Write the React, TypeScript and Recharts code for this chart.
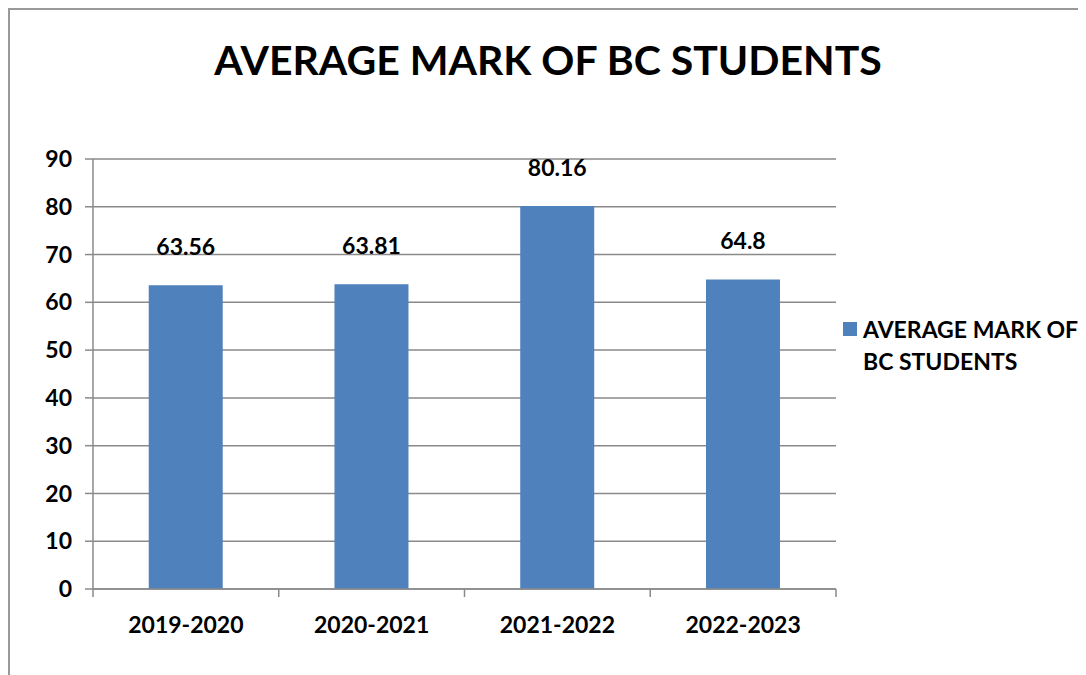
import React from "react";
import {
  BarChart,
  Bar,
  XAxis,
  YAxis,
  CartesianGrid,
  LabelList,
} from "recharts";

const years = ["2019-2020", "2020-2021", "2021-2022", "2022-2023"];
const marks = [63.56, 63.81, 80.16, 64.8];
const yTicks = [0, 10, 20, 30, 40, 50, 60, 70, 80, 90];
const seriesName = "AVERAGE MARK OF BC STUDENTS";

const data = years.map((y, i) => ({ year: y, mark: marks[i] }));

const W = 1078;
const H = 667;
const YW = 50;
const M = { top: 151, right: 250, bottom: 56, left: 35 };
const FONT = "Lato, 'Open Sans', sans-serif";
const GRID = "#8a8a8a";
const FS = 23;

// x ticks: label at centre, tick marks on the category boundaries
function XTick(props: any) {
  const { x, y, payload, index } = props;
  const step = (W - M.left - YW - M.right) / years.length;
  const axisY = y - 8;
  return (
    <g>
      <line x1={x - step / 2} x2={x - step / 2} y1={axisY} y2={axisY + 8} stroke={GRID} strokeWidth={1.5} />
      {index === years.length - 1 && (
        <line x1={x + step / 2} x2={x + step / 2} y1={axisY} y2={axisY + 8} stroke={GRID} strokeWidth={1.5} />
      )}
      <text x={x} y={axisY + 44} textAnchor="middle" fontSize={FS} fontWeight={700} fill="#000" fontFamily={FONT}>
        {payload.value}
      </text>
    </g>
  );
}

export default function App() {
  return (
    <div
      style={{
        position: "relative",
        width: W,
        height: H,
        borderTop: "2px solid #999",
        borderLeft: "2px solid #999",
        boxSizing: "border-box",
        background: "#fff",
        fontFamily: FONT,
      }}
    >
      <div
        style={{
          position: "absolute",
          left: 0,
          width: W - 2,
          top: 25,
          textAlign: "center",
          fontSize: 41,
          fontWeight: 700,
          color: "#000",
        }}
      >
        {seriesName}
      </div>
      <div style={{ position: "absolute", left: -2, top: -2 }}>
        <BarChart width={W} height={H} data={data} margin={M} barCategoryGap="30%">
          <CartesianGrid vertical={false} stroke={GRID} strokeWidth={1.5} />
          <XAxis
            dataKey="year"
            axisLine={{ stroke: GRID, strokeWidth: 1.5 }}
            tickLine={false}
            tick={<XTick />}
            height={30}
            interval={0}
          />
          <YAxis
            domain={[0, 90]}
            ticks={yTicks}
            width={YW}
            axisLine={{ stroke: GRID, strokeWidth: 1.5 }}
            tickLine={{ stroke: GRID, strokeWidth: 1.5 }}
            tickSize={8}
            tickMargin={13}
            tick={{ fill: "#000", fontSize: FS, fontWeight: 700, fontFamily: FONT }}
          />
          <Bar dataKey="mark" name={seriesName} fill="#4F81BD" isAnimationActive={false}>
            <LabelList
              dataKey="mark"
              position="top"
              offset={30}
              fill="#000"
              fontSize={FS}
              fontWeight={700}
              fontFamily={FONT}
            />
          </Bar>
        </BarChart>
      </div>
      {/* legend */}
      <div
        style={{
          position: "absolute",
          left: 833,
          top: 303,
          display: "flex",
          alignItems: "flex-start",
          fontWeight: 700,
          fontSize: FS,
          color: "#000",
          lineHeight: "32px",
        }}
      >
        <span style={{ width: 14, height: 14, background: "#4F81BD", marginTop: 9, marginRight: 6, flex: "none" }} />
        <span style={{ width: 240 }}>
          AVERAGE MARK OF
          <br />
          BC STUDENTS
        </span>
      </div>
    </div>
  );
}
